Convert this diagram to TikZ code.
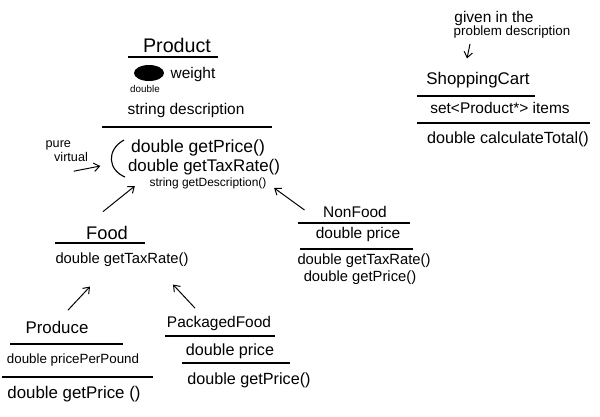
\documentclass[tikz,border=0pt]{standalone}
\usepackage{fontspec}
\setmainfont{Liberation Sans}
\usetikzlibrary{arrows.meta, positioning, calc}
\tikzstyle{classname} = [font=\fontsize{12}{14}\selectfont, inner sep=1pt]
\tikzstyle{member} = [font=\fontsize{11}{13}\selectfont, inner sep=1pt]
\tikzstyle{note} = [font=\fontsize{9}{10}\selectfont, inner sep=1pt]
\tikzstyle{divider} = [line width=0.9pt]
\tikzstyle{arrow} = [line width=0.7pt, -{Straight Barb[length=4pt,width=6pt]}]

\begin{document}
\begin{tikzpicture}[x=0.025cm, y=-0.025cm]
\useasboundingbox (0,0) rectangle (600,416);

% ===== PRODUCT (TOP) =====
\node (product) [classname, font=\fontsize{14}{16}\selectfont] at (177,45) {Product};
\draw [divider] (128,57) -- (218,57);
\fill (149,73) ellipse [x radius=15, y radius=8];
\node (weight) [member] at (193,74) {weight};
\node (weight_type) [note, font=\fontsize{7}{8}\selectfont] at (145,89) {double};
\node (descr) [member] at (186,110) {string description};
\draw [divider] (102,127) -- (272,127);
\node (get_price) [member, font=\fontsize{12.5}{14}\selectfont] at (198,148) {double getPrice()};
\node (get_tax) [member, font=\fontsize{12}{14}\selectfont] at (204,167) {double getTaxRate()};
\node (get_descr) [member, font=\fontsize{8.5}{10}\selectfont] at (208,183) {string getDescription()};

% pure virtual bracket
\draw [line width=0.8pt] (124,140) .. controls (106,150) and (108,170) .. (125,177);
\node (pure) [note, align=left, anchor=west] at (44,151) {pure\\\hspace*{6pt}virtual};
\draw [arrow] ($(pure.south)+(7,8)$) -- ($(get_tax.west)+(-26,-1)$);

% ===== SHOPPING CART (TOP RIGHT) =====
\node (given) [note, font=\fontsize{11}{13}\selectfont] at (494,18) {given in the};
\node (problem) [note, font=\fontsize{9.5}{11}\selectfont] at (512,32) {problem description};
\node (cart) [classname] at (478,80) {ShoppingCart};
\draw [divider] (417,96) -- (535,96);
\node (items) [member] at (500,108) {set<Product*> items};
\draw [divider] (417,123) -- (590,123);
\node (total) [member, font=\fontsize{11.5}{13}\selectfont] at (508,139) {double calculateTotal()};
\draw [arrow] ($(problem.south west)+(18,4)$) -- ($(cart.north)+(-11,-12)$);

% ===== FOOD =====
\node (food) [classname, font=\fontsize{13}{15}\selectfont] at (107,233) {Food};
\draw [divider] (55,243) -- (145,243);
\node (food_tax) [member, font=\fontsize{10.5}{12}\selectfont] at (122,260) {double getTaxRate()};

% ===== NON FOOD =====
\node (nonfood) [classname, font=\fontsize{11}{13}\selectfont] at (355,212) {NonFood};
\draw [divider] (298,223) -- (410,223);
\node (nf_price) [member] at (358,234) {double price};
\draw [divider] (300,249) -- (413,249);
\node (nf_tax) [member, font=\fontsize{10.5}{12}\selectfont] at (364,261) {double getTaxRate()};
\node (nf_price_fn) [member, font=\fontsize{10.5}{12}\selectfont] at (360,278) {double getPrice()};

% ===== PRODUCE / PACKAGED FOOD (BOTTOM) =====
\node (produce) [classname] at (57,327) {Produce};
\draw [divider] (10,344) -- (123,344);
\node (per_pound) [member, font=\fontsize{9.5}{11}\selectfont] at (73,360) {double pricePerPound};
\draw [divider] (2,377) -- (153,377);
\node (produce_price) [member, font=\fontsize{12}{14}\selectfont] at (74,394) {double getPrice ()};

\node (packaged) [classname, font=\fontsize{11}{13}\selectfont] at (219,323) {PackagedFood};
\draw [divider] (165,336) -- (275,336);
\node (pk_price) [member, font=\fontsize{11.5}{13}\selectfont] at (230,351) {double price};
\draw [divider] (182,363) -- (290,363);
\node (pk_price_fn) [member, font=\fontsize{11.5}{13}\selectfont] at (249,380) {double getPrice()};

% ===== ARROWS =====
\draw [arrow] ($(food.north)+(-4,-13)$) -- ($(get_descr.west)+(-13,3)$);
\draw [arrow] ($(nonfood.west)+(-17,-2)$) -- ($(get_descr.east)+(6,5)$);
\draw [arrow] ($(produce.north)+(11,-9)$) -- ($(food_tax.south)+(-32,18)$);
\draw [arrow] ($(packaged.north)+(-24,-6)$) -- ($(food_tax.south)+(51,16)$);

\end{tikzpicture}
\end{document}
